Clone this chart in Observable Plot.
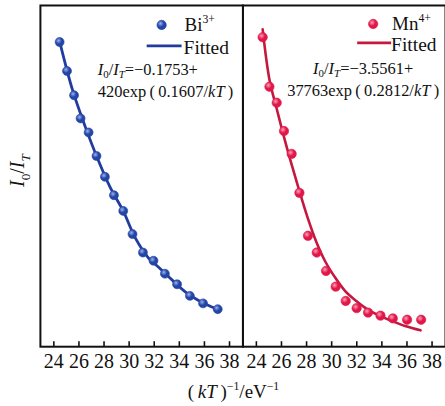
<!DOCTYPE html>
<html><head><meta charset="utf-8">
<script src="https://cdn.jsdelivr.net/npm/d3@7"></script>
<script src="https://cdn.jsdelivr.net/npm/@observablehq/plot@0.6"></script>
<style>
html,body{margin:0;padding:0;background:#fff;overflow:hidden;}
svg, svg text{font-family:"Liberation Serif",serif !important;}
</style></head><body><div id="chart"></div>
<script>
// ---- data (y in arbitrary units, no y ticks in original) ----
const ions = ["Bi", "Mn"];
const xTicks = [24, 26, 28, 30, 32, 34, 36, 38];

const biX = [24.46, 25.05, 25.61, 26.13, 26.77, 27.40, 28.07, 28.79, 29.53, 30.27, 31.10, 31.94, 32.85, 33.82, 34.84, 35.89, 37.06];
const biY = [8.93, 8.08, 7.37, 6.69, 6.28, 5.59, 4.98, 4.44, 3.98, 3.30, 2.76, 2.52, 2.14, 1.83, 1.49, 1.27, 1.10];
const biFitX = [24.46, 25.5, 26.5, 27.5, 28.5, 29.5, 30.5, 31.5, 32.5, 33.5, 34.5, 35.5, 36.5, 37.06];
const biFitY = [8.95, 7.51, 6.45, 5.50, 4.66, 4.00, 3.18, 2.62, 2.28, 1.93, 1.60, 1.36, 1.18, 1.10];

const mnX = [24.50, 25.04, 25.62, 26.20, 26.81, 27.43, 28.11, 28.81, 29.55, 30.32, 31.12, 31.99, 32.90, 33.89, 34.87, 36.01, 37.13];
const mnY = [9.07, 7.62, 7.15, 6.32, 5.65, 4.51, 3.25, 2.76, 2.22, 1.76, 1.34, 1.13, 1.00, 0.91, 0.83, 0.79, 0.79];
const mnFitX = [24.50, 25.05, 25.61, 26.16, 26.80, 27.43, 28.07, 28.78, 29.50, 30.29, 31.08, 31.96, 32.83, 33.78, 34.81, 35.92, 37.08];
const mnFitY = [9.30, 7.81, 6.99, 6.20, 5.35, 4.56, 3.80, 3.07, 2.49, 2.02, 1.63, 1.34, 1.10, 0.91, 0.75, 0.60, 0.48];

const biColor = "#2345a6", biLine = "#1f3c9e";
const mnColor = "#e0184a", mnLine = "#c4183f";

// ---- tables ----
const bi = biX.map((x, i) => ({ion: "Bi", x, y: biY[i]}));
const biFit = biFitX.map((x, i) => ({ion: "Bi", x, y: biFitY[i]}));
const mn = mnX.map((x, i) => ({ion: "Mn", x, y: mnY[i]}));
const mnFit = mnFitX.map((x, i) => ({ion: "Mn", x, y: mnFitY[i]}));

const plot = Plot.plot({
  width: 446, height: 406,
  marginLeft: 40, marginRight: 0, marginTop: 5, marginBottom: 59,
  style: {fontFamily: "Liberation Serif", fontSize: "20px", color: "#111", background: "white"},
  fx: {domain: ions, axis: null, padding: 0, label: null},
  x: {domain: [22.93, 39.07], label: null},
  y: {domain: [0, 10], axis: null, label: null},
  marks: [
    Plot.line(biFit, {x: "x", y: "y", fx: "ion", stroke: biLine, strokeWidth: 2.8, curve: "catmull-rom"}),
    Plot.dot(bi, {x: "x", y: "y", fx: "ion", r: 4.5, fill: "url(#gBi)", stroke: biColor, strokeWidth: 0.6}),
    Plot.line(mnFit, {x: "x", y: "y", fx: "ion", stroke: mnLine, strokeWidth: 2.6, curve: "catmull-rom"}),
    Plot.dot(mn, {x: "x", y: "y", fx: "ion", r: 4.7, fill: "url(#gMn)", stroke: mnColor, strokeWidth: 0.6}),
    Plot.axisX({ticks: xTicks, tickSize: -5, tickFormat: () => "", strokeWidth: 1.6, stroke: "#111"}),
    Plot.axisX({ticks: xTicks, tickSize: 0, tickPadding: 7, fontSize: 20, fontFamily: "Liberation Serif", fill: "#111", fontVariant: "normal"}),
    Plot.frame({stroke: "#111", strokeWidth: 2})
  ]
});
document.getElementById("chart").appendChild(plot);

const svg = d3.select(plot);
// force serif font on all Plot-generated texts
svg.selectAll("g, text").attr("font-family", "Liberation Serif").style("font-family", "'Liberation Serif', serif").attr("font-variant", null);

// ---- gradients for shaded dots ----
const defs = svg.insert("defs", ":first-child");
function grad(id, light, base) {
  const g = defs.append("radialGradient").attr("id", id).attr("cx", "38%").attr("cy", "35%").attr("r", "65%");
  g.append("stop").attr("offset", "0%").attr("stop-color", light);
  g.append("stop").attr("offset", "55%").attr("stop-color", base);
  g.append("stop").attr("offset", "100%").attr("stop-color", base);
}
grad("gBi", "#9db0ea", biColor);
grad("gMn", "#ff9fb6", mnColor);

// ---- rich text helper ----
function rich(x, y, parts, {size = 15, anchor = "start", rotate = 0, subShift = 0.3} = {}) {
  const t = svg.append("text").attr("x", x).attr("y", y).attr("font-size", size)
    .attr("text-anchor", anchor).attr("fill", "#111");
  if (rotate) t.attr("transform", `rotate(${rotate},${x},${y})`);
  let shift = 0;
  for (const p of parts) {
    const s = typeof p === "string" ? {t: p} : p;
    let target = 0, fs = size;
    if (s.sub) { target = size * subShift; fs = size * 0.66; }
    if (s.sup) { target = -size * 0.42; fs = size * 0.62; }
    const sp = t.append("tspan").text(s.t).attr("font-size", fs).attr("dy", target - shift);
    if (s.i) sp.attr("font-style", "italic");
    shift = target;
  }
  return t;
}

// legends
function legend(cx, cy, lx1, lx2, ly, tx, name, sup, gid, lineColor, dotColor) {
  svg.append("circle").attr("cx", cx).attr("cy", cy).attr("r", 4.7).attr("fill", `url(#${gid})`)
    .attr("stroke", dotColor).attr("stroke-width", 0.6);
  rich(tx, cy + 6, [name, {t: sup, sup: true}], {size: 19});
  svg.append("line").attr("x1", lx1).attr("x2", lx2).attr("y1", ly).attr("y2", ly)
    .attr("stroke", lineColor).attr("stroke-width", 2.8);
  rich(tx - 1, ly + 8, ["Fitted"], {size: 19.5});
}
legend(162, 25, 147, 182, 46, 185, "Bi", "3+", "gBi", biLine, biColor);
legend(374, 24, 358, 392, 43, 393, "Mn", "4+", "gMn", mnLine, mnColor);

// equations
const eqOpt = {size: 16.5, subShift: 0.22};
rich(98, 75, [{t: "I", i: true}, {t: "0", sub: true}, "/", {t: "I", i: true}, {t: "T", sub: true, i: true}, "=−0.1753+"], eqOpt);
rich(98, 97, ["420exp\u2009(\u20090.1607/", {t: "kT", i: true}, "\u2009)"], eqOpt);
rich(364, 74, [{t: "I", i: true}, {t: "0", sub: true}, "/", {t: "I", i: true}, {t: "T", sub: true, i: true}, "=−3.5561+"], {...eqOpt, anchor: "middle"});
rich(364, 96, ["37763exp\u2009(\u20090.2812/", {t: "kT", i: true}, "\u2009)"], {...eqOpt, anchor: "middle"});

// axis titles
rich(234, 399, ["(\u2009", {t: "kT", i: true}, "\u2009)", {t: "−1", sup: true}, "/eV", {t: "−1", sup: true}], {size: 19, anchor: "middle"});
rich(24, 171, [{t: "I", i: true}, {t: "0", sub: true}, "/", {t: "I", i: true}, {t: "T", sub: true, i: true}], {size: 20, anchor: "middle", rotate: -90});
</script></body></html>
